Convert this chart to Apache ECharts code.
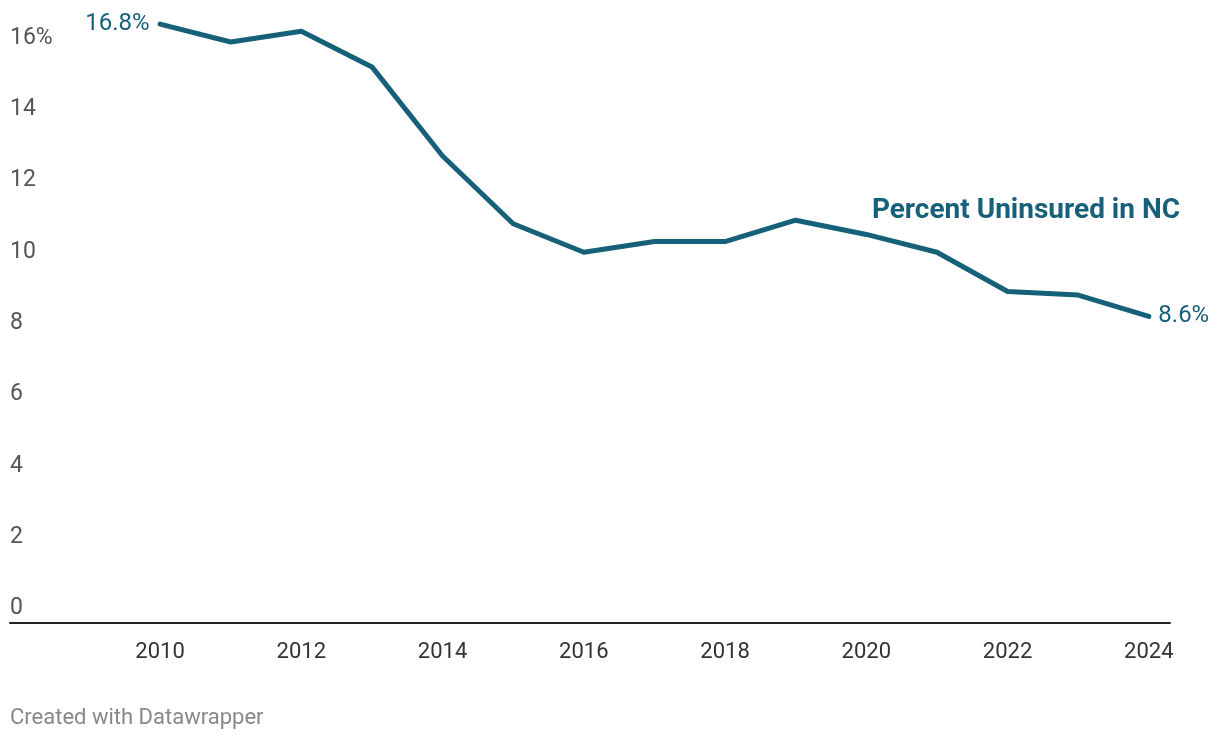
<!DOCTYPE html>
<html><head><meta charset="utf-8">
<script src="https://cdn.jsdelivr.net/npm/echarts@6/dist/echarts.min.js"></script>
<style>html,body{margin:0;padding:0;background:#fff}#c{width:1220px;height:740px}</style>
</head><body><div id="c"></div>
<script>
const years = [2010,2011,2012,2013,2014,2015,2016,2017,2018,2019,2020,2021,2022,2023,2024];
const uninsured = [16.8,16.3,16.6,15.6,13.1,11.2,10.4,10.7,10.7,11.3,10.9,10.4,9.3,9.2,8.6];
const xTicks = [2010,2012,2014,2016,2018,2020,2022,2024];
const yTicks = [0,2,4,6,8,10,12,14,16];
const seriesName = 'Percent Uninsured in NC';
const credit = 'Created with Datawrapper';

const color = '#17607a';
const chart = echarts.init(document.getElementById('c'));
const data = years.map((y,i)=>{
  const d = {value:[y,uninsured[i]]};
  if(i===0) d.label={show:true,position:'left',distance:10,formatter:uninsured[i].toFixed(1)+'%'};
  if(i===years.length-1) d.label={show:true,position:'right',distance:9,formatter:uninsured[i].toFixed(1)+'%'};
  return d;
});
chart.setOption({
  animation:false,
  textStyle:{fontFamily:'Roboto'},
  grid:{left:10,right:50,top:17,bottom:117},
  xAxis:{type:'value',min:2007.875,max:2024.3,
    axisLine:{show:true,lineStyle:{color:'#222',width:2}},
    axisTick:{show:false},splitLine:{show:false},
    axisLabel:{customValues:xTicks,color:'#333',fontSize:22,margin:18,formatter:v=>String(v)}},
  yAxis:{type:'value',min:0,max:17,
    axisLine:{show:false},axisTick:{show:false},splitLine:{show:false},
    axisLabel:{customValues:yTicks,inside:true,margin:0,color:'#555',fontSize:23,
      verticalAlign:'bottom',padding:[0,0,3,0],
      formatter:v=>v===16?'16%':String(v)}},
  series:[{type:'line',name:seriesName,data:data,showSymbol:true,symbol:'circle',symbolSize:1,
    itemStyle:{color:color},
    lineStyle:{color:color,width:5,cap:'round',join:'round'},
    label:{show:false,color:color,fontSize:24,fontFamily:'Roboto'}}],
  graphic:[
    {type:'text',right:40,top:197,style:{text:seriesName,fill:color,font:'bold 28px Roboto'}},
    {type:'text',left:10,top:707,style:{text:credit,fill:'#888',font:'22px Roboto'}}
  ]
});
</script></body></html>
